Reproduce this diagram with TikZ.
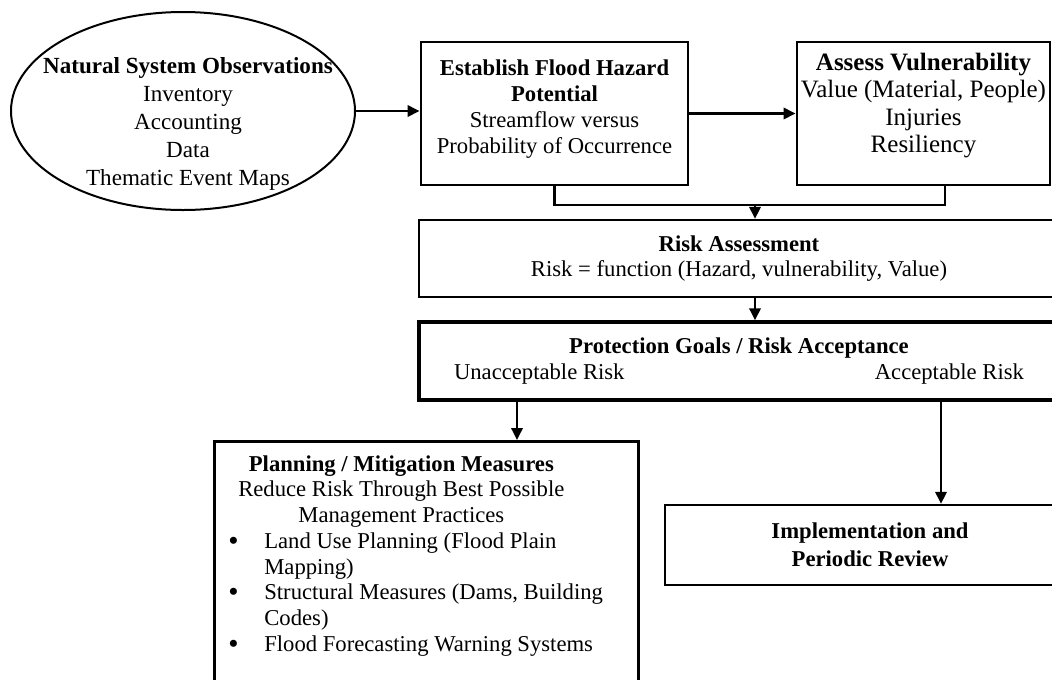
\documentclass[tikz,border=0pt]{standalone}
\usepackage{fontspec}
\setmainfont{Liberation Serif}
\usetikzlibrary{arrows.meta,shapes.geometric}
\newcommand{\planbullet}{\makebox[37.5pt][l]{\hspace{10.5pt}\raisebox{-1.6pt}{\fontsize{22}{19}\selectfont\textbullet}}}

\begin{document}
\begin{tikzpicture}[x=0.75pt,y=0.75pt,yscale=-1,xscale=1,
  txt/.style={font=\fontsize{17}{19.5}\selectfont, align=center, inner sep=0pt},
  box/.style={txt, draw, rectangle, line width=2.2pt},
  arr/.style={-{Triangle[length=9pt,width=8.5pt]}, line width=1.8pt},
  link/.style={line width=1.8pt}]
%set diagram size and cut what runs over the right and lower edge
\useasboundingbox (0,0) rectangle (1052,679);
\clip (0,0) rectangle (1052,679);

%Shape: Ellipse [id:obs]
\node [draw, ellipse, line width=1.5pt, minimum width=258pt, minimum height=148.5pt, inner sep=0pt] (obs) at (183,111) {};
% Text Node
\node [txt, font=\fontsize{17.3}{21}\selectfont] (obstxt) at (188,124) {\textbf{Natural System Observations}\\Inventory\\Accounting\\Data\\Thematic Event Maps};
%Shape: Rectangle [id:haz]
\node [box, minimum width=200.25pt, minimum height=107.25pt] (haz) at (554.5,113.5) {\textbf{Establish Flood Hazard}\\\textbf{Potential}\\Streamflow versus\\Probability of Occurrence\rule[-10.5pt]{0pt}{10.5pt}};
%Shape: Rectangle [id:vul]
\node [box, font=\fontsize{18.75}{20.5}\selectfont, minimum width=189.75pt, minimum height=107.25pt] (vul) at (923.5,113.5) {\textbf{Assess Vulnerability}\\Value (Material, People)\\Injuries\\Resiliency\rule[-16pt]{0pt}{16pt}};
%Shape: Rectangle [id:risk]
\node [box, line width=1.8pt, font=\fontsize{17}{19}\selectfont, minimum width=480pt, minimum height=57.75pt] (risk) at (739,258.5) {\textbf{Risk Assessment}\\Risk = function (Hazard, vulnerability, Value)};
%Shape: Rectangle [id:prot]
\node [box, line width=2.6pt, font=\fontsize{17}{20}\selectfont, minimum width=480pt, minimum height=58.5pt] (prot) at (739,361) {\textbf{Protection Goals / Risk Acceptance}\\\makebox[427.5pt]{Unacceptable Risk\hfill Acceptable Risk}};
%Shape: Rectangle [id:plan]
\node [box, line width=2pt, anchor=north west, font=\fontsize{17}{19.3}\selectfont] (plan) at (213,440) {\begin{minipage}[c][190pt][t]{318pt}\raggedright
  \vspace{10.5pt}
  \makebox[280.5pt]{\textbf{Planning / Mitigation Measures}}\\
  \makebox[280.5pt]{Reduce Risk Through Best Possible}\\
  \makebox[280.5pt]{Management Practices}\par
  \hangindent=37.5pt\hangafter=1\planbullet Land Use Planning (Flood Plain\hfil\break Mapping)\par
  \hangindent=37.5pt\hangafter=1\planbullet Structural Measures (Dams, Building\hfil\break Codes)\par
  \hangindent=37.5pt\hangafter=1\planbullet Flood Forecasting Warning Systems\par
  \end{minipage}};
%Shape: Rectangle [id:impl]
\node [box, line width=1.8pt, font=\fontsize{17}{21}\selectfont, minimum width=307.5pt, minimum height=60pt] (impl) at (870,545) {\textbf{Implementation and}\\\textbf{Periodic Review}};

%Straight Lines
\coordinate (mrg) at (755,205);
\coordinate (unacc) at (517,420);
\coordinate (acc) at (941,420);
\draw [arr] (obs.east) -- (obs.east -| haz.west);
\draw [arr] (haz.east) -- (vul.west);
\draw [link] (haz.south) |- (mrg) -| ([xshift=16.1pt]vul.south);
\draw [arr] (mrg) -- (mrg |- risk.north);
\draw [arr] (risk.south -| mrg) -- (prot.north -| mrg);
\draw [arr] (prot.south -| unacc) -- (unacc |- plan.north);
\draw [arr] (prot.south -| acc) -- (acc |- impl.north);

\end{tikzpicture}
\end{document}
